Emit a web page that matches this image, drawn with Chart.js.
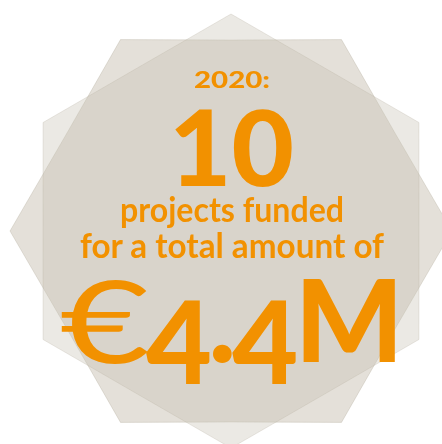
<!DOCTYPE html>
<html>
<head>
<meta charset="utf-8">
<script src="https://cdn.jsdelivr.net/npm/chart.js@4/dist/chart.umd.min.js"></script>
<style>
  html, body { margin: 0; padding: 0; background: #fff; overflow: hidden; width: 442px; height: 444px; }
  #wrap { position: absolute; left: 0; top: 0; width: 462px; height: 462px; }
  .t { position: absolute; left: 0; top: 0; white-space: nowrap; color: #f29100;
       font-family: Lato, "Open Sans", sans-serif; line-height: 1; transform-origin: 0 0; }
  .low { position: relative; top: 0.19em; }
</style>
</head>
<body>
<div id="wrap"><canvas id="c" width="462" height="462"></canvas></div>
<div class="t" id="year">2020:</div>
<div class="t" id="ten">10</div>
<div class="t" id="line1">projects funded</div>
<div class="t" id="line2">for a total amount of</div>
<div class="t" id="euro">€</div>
<div class="t" id="amount" style="letter-spacing:-0.03em"><span class="low">4</span>.<span class="low">4</span>M</div>
<script>
// 12 spokes, 30 degrees apart, starting at the top
const spokes = ['0°', '30°', '60°', '90°', '120°', '150°', '180°', '210°', '240°', '270°', '300°', '330°'];
// hexagon with a point on top (corners on the even spokes)
const pointyHex = [217, 188, 217, 188, 217, 188, 217, 188, 217, 188, 217, 188];
// hexagon with a flat top (corners on the odd spokes)
const flatHex = [191, 221, 191, 221, 191, 221, 191, 221, 191, 221, 191, 221];

new Chart(document.getElementById('c'), {
    type: 'radar',
    data: {
        labels: spokes,
        datasets: [{
            label: 'pointy',
            data: pointyHex,
            fill: true,
            backgroundColor: 'rgba(198, 192, 178, 0.35)',
            borderColor: 'rgba(175, 168, 152, 0.25)',
            borderWidth: 1,
            pointRadius: 0,
            clip: false
        }, {
            label: 'flat',
            data: flatHex,
            fill: true,
            backgroundColor: 'rgba(178, 166, 146, 0.35)',
            borderColor: 'rgba(160, 150, 132, 0.25)',
            borderWidth: 1,
            pointRadius: 0,
            clip: false
        }]
    },
    options: {
        responsive: false,
        animation: false,
        layout: { padding: 0 },
        plugins: { legend: { display: false }, tooltip: { enabled: false } },
        scales: {
            r: {
                min: 0,
                max: 231,
                ticks: { display: false },
                grid: { display: false },
                angleLines: { display: false },
                pointLabels: { display: false }
            }
        }
    }
});

// text boxes: left, right, baseline, font size, weight
function place(id, x0, x1, base, size, weight) {
    const el = document.getElementById(id);
    el.style.fontSize = size + 'px';
    el.style.fontWeight = weight;
    const mark = document.createElement('span');
    mark.style.cssText = 'display:inline-block;width:0;height:0;';
    el.appendChild(mark);
    const w = el.getBoundingClientRect().width;
    const b = mark.offsetTop;
    el.style.left = x0 + 'px';
    el.style.top = (base - b) + 'px';
    el.style.transform = 'scaleX(' + ((x1 - x0) / w) + ')';
}
place('year', 194, 270, 88, 22, 900);
place('ten', 169, 294, 186, 105, 900);
place('line1', 120, 344, 222, 34, 700);
place('line2', 80, 384, 258, 34, 700);
place('euro', 60, 150, 363, 115, 400);
place('amount', 146, 400, 362, 114, 900);
</script>
</body>
</html>
